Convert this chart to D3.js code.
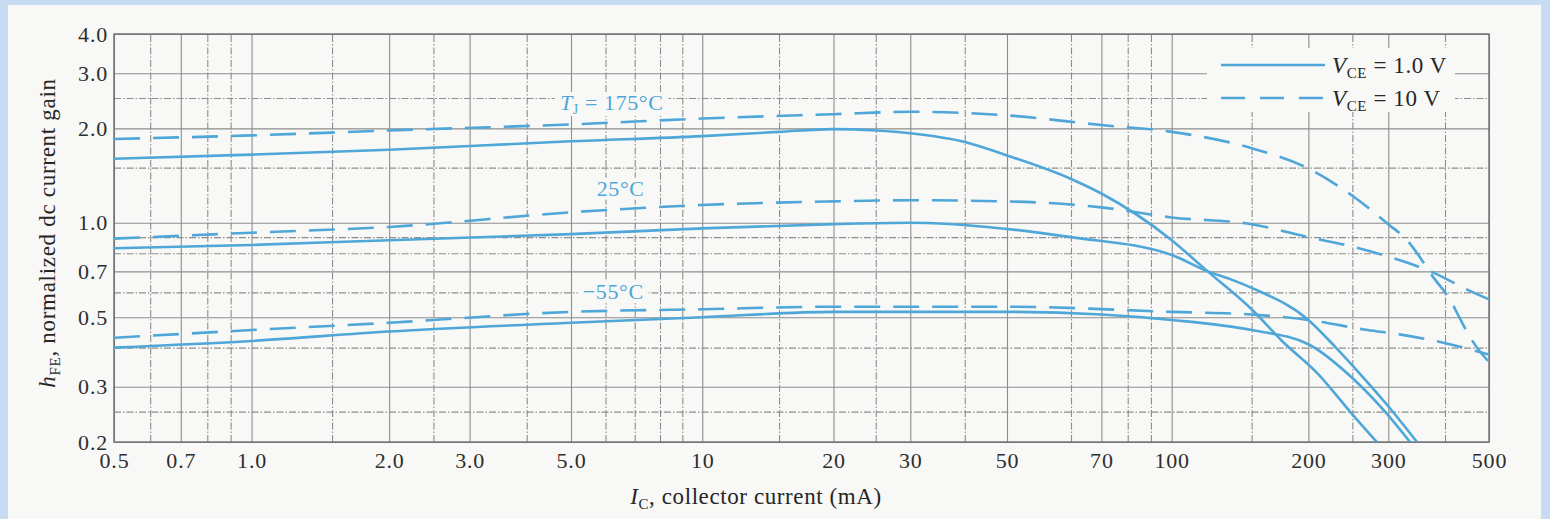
<!DOCTYPE html>
<html>
<head>
<meta charset="utf-8">
<script src="https://cdn.jsdelivr.net/npm/d3@7"></script>
<style>
  html, body { margin: 0; padding: 0; background: #c7dcf3; }
  svg { display: block; }
  text { font-family: "Liberation Serif", "DejaVu Serif", serif; }
</style>
</head>
<body>
<svg id="chart" width="1550" height="519"></svg>
<script>
// values: collector current in mA, normalized h_FE
var gridCurrents = [0.5, 0.6, 0.7, 0.8, 0.9, 1, 1.5, 2, 2.5, 3, 4, 5, 6, 7, 8, 9, 10, 15, 20, 25, 30, 40, 50, 60, 70, 80, 90, 100, 150, 200, 250, 300, 400, 500];
var labelCurrents = [0.5, 0.7, 1, 2, 3, 5, 10, 20, 30, 50, 70, 100, 200, 300, 500];
var currentLabels = ['0.5', '0.7', '1.0', '2.0', '3.0', '5.0', '10', '20', '30', '50', '70', '100', '200', '300', '500'];
var gridGains = [0.2, 0.25, 0.3, 0.4, 0.5, 0.6, 0.7, 0.8, 0.9, 1, 1.5, 2, 2.5, 3, 4];
var labelGains = [0.2, 0.3, 0.5, 0.7, 1, 2, 3, 4];
var gainLabels = ['0.2', '0.3', '0.5', '0.7', '1.0', '2.0', '3.0', '4.0'];

var t175Vce1 = [[0.5, 1.60], [1, 1.65], [2, 1.71], [5, 1.82], [10, 1.89], [15, 1.95], [20, 1.99], [25, 1.97], [30, 1.93], [40, 1.81], [50, 1.64], [60, 1.38], [70, 1.24], [100, 0.88], [120, 0.70], [150, 0.53], [175, 0.42], [210, 0.33], [250, 0.245], [283, 0.20]];
var t175Vce10 = [[0.5, 1.85], [1, 1.90], [2, 1.97], [5, 2.06], [10, 2.15], [20, 2.22], [30, 2.26], [50, 2.20], [70, 2.05], [100, 1.95], [150, 1.73], [200, 1.49], [250, 1.22], [300, 0.99], [330, 0.88], [380, 0.66], [410, 0.57], [430, 0.50], [455, 0.43], [480, 0.385], [500, 0.36]];
var t25Vce1 = [[0.5, 0.83], [1, 0.85], [2, 0.88], [5, 0.92], [10, 0.96], [20, 0.99], [30, 1.00], [45, 0.97], [60, 0.90], [100, 0.79], [120, 0.70], [135, 0.66], [150, 0.62], [200, 0.49], [230, 0.40], [270, 0.31], [300, 0.26], [347, 0.20]];
var t25Vce10 = [[0.5, 0.89], [1, 0.93], [2, 0.97], [5, 1.08], [10, 1.14], [20, 1.17], [30, 1.18], [50, 1.17], [70, 1.12], [100, 1.04], [150, 0.99], [200, 0.90], [250, 0.84], [300, 0.78], [380, 0.69], [450, 0.61], [500, 0.57]];
var tm55Vce1 = [[0.5, 0.40], [1, 0.42], [2, 0.45], [5, 0.48], [10, 0.50], [20, 0.52], [50, 0.52], [70, 0.51], [100, 0.49], [150, 0.455], [200, 0.41], [250, 0.32], [295, 0.25], [335, 0.20]];
var tm55Vce10 = [[0.5, 0.43], [1, 0.455], [2, 0.48], [5, 0.52], [10, 0.53], [20, 0.54], [50, 0.54], [100, 0.52], [150, 0.51], [200, 0.49], [270, 0.455], [320, 0.44], [410, 0.41], [500, 0.38]];

// temperature labels, anchored at [mA, gain]
var tempLabels = [
  {pre: 'T', sub: 'J', post: ' = 175°C', at: [6.2, 2.29]},
  {pre: '', sub: '', post: '25°C', at: [6.5, 1.22]},
  {pre: '', sub: '', post: '\u221255°C', at: [6.25, 0.571]}
];
var legendLabels = [' = 1.0 V', ' = 10 V'];

var curveColor = '#4ea7d8';
var gridColor = '#8d8d8d';
var paper = '#f8f8f6';

var svg = d3.select('#chart');
svg.append('rect')
  .attr('x', 8).attr('y', 5)
  .attr('width', 1533).attr('height', 514)
  .attr('fill', paper);

// the scanned axis is not quite uniform, so the log scale is piecewise
var x = d3.scaleLog().domain([0.5, 5, 50, 60, 500]).range([114, 571, 1007, 1071, 1489]);
var y = d3.scaleLog().domain([0.2, 4]).range([442, 34]);
var plotLeft = x(0.5), plotRight = x(500), plotTop = y(4), plotBottom = y(0.2);
var plotW = plotRight - plotLeft, plotH = plotBottom - plotTop;

function gridDash(labels) {
  return function(d) {
    return labels.indexOf(d) >= 0 ? null : '7,2,1.5,2';
  };
}

var gridX = svg.append('g')
  .attr('transform', 'translate(0,' + plotBottom + ')')
  .call(d3.axisBottom(x).tickValues(gridCurrents).tickSize(-plotH).tickFormat(''));
gridX.select('.domain').remove();
gridX.selectAll('line')
  .attr('stroke', gridColor)
  .attr('stroke-width', 1.1)
  .attr('stroke-dasharray', gridDash(labelCurrents));

var gridY = svg.append('g')
  .attr('transform', 'translate(' + plotLeft + ',0)')
  .call(d3.axisLeft(y).tickValues(gridGains).tickSize(-plotW).tickFormat(''));
gridY.select('.domain').remove();
gridY.selectAll('line')
  .attr('stroke', gridColor)
  .attr('stroke-width', 1.1)
  .attr('stroke-dasharray', gridDash(labelGains));

svg.append('rect')
  .attr('x', plotLeft).attr('y', plotTop)
  .attr('width', plotW).attr('height', plotH)
  .attr('fill', 'none')
  .attr('stroke', '#6e6e6e')
  .attr('stroke-width', 1.4);

// tick labels
var xAxis = svg.append('g')
  .attr('transform', 'translate(0,' + plotBottom + ')')
  .call(d3.axisBottom(x).tickValues(labelCurrents).tickSize(0).tickPadding(10)
    .tickFormat(function(d) { return currentLabels[labelCurrents.indexOf(d)]; }));
xAxis.select('.domain').remove();
xAxis.attr('font-family', null).attr('font-size', null);
xAxis.selectAll('text')
  .attr('font-size', 22)
  .attr('letter-spacing', 0.8)
  .attr('fill', '#2e2e2e');

var yAxis = svg.append('g')
  .attr('transform', 'translate(' + plotLeft + ',0)')
  .call(d3.axisLeft(y).tickValues(labelGains).tickSize(0).tickPadding(6)
    .tickFormat(function(d) { return gainLabels[labelGains.indexOf(d)]; }));
yAxis.select('.domain').remove();
yAxis.attr('font-family', null).attr('font-size', null);
yAxis.selectAll('text')
  .attr('font-size', 22)
  .attr('letter-spacing', 0.8)
  .attr('fill', '#2e2e2e');

// axis titles
var xTitle = svg.append('text')
  .attr('x', 756).attr('y', 504)
  .attr('text-anchor', 'middle')
  .attr('font-size', 23)
  .attr('letter-spacing', 0.6)
  .attr('fill', '#262626');
xTitle.append('tspan').attr('font-style', 'italic').text('I');
xTitle.append('tspan').attr('font-size', 15).attr('dy', 5).text('C');
xTitle.append('tspan').attr('dy', -5).text(', collector current (mA)');

var yTitle = svg.append('text')
  .attr('transform', 'translate(55,233) rotate(-90)')
  .attr('text-anchor', 'middle')
  .attr('font-size', 23)
  .attr('letter-spacing', 0.7)
  .attr('fill', '#262626');
yTitle.append('tspan').attr('font-style', 'italic').text('h');
yTitle.append('tspan').attr('font-size', 15).attr('dy', 5).text('FE');
yTitle.append('tspan').attr('dy', -5).text(', normalized dc current gain');

// temperature labels with a paper knock-out behind them
tempLabels.forEach(function(lab) {
  var g = svg.append('g');
  var bg = g.append('rect').attr('fill', paper);
  var t = g.append('text')
    .attr('x', x(lab.at[0])).attr('y', y(lab.at[1]))
    .attr('text-anchor', 'middle')
    .attr('font-size', 22)
    .attr('letter-spacing', 0.6)
    .attr('fill', curveColor);
  if (lab.pre) {
    t.append('tspan').attr('font-style', 'italic').text(lab.pre);
    t.append('tspan').attr('font-size', 14).attr('dy', 4).text(lab.sub);
    t.append('tspan').attr('dy', -4).text(lab.post);
  } else {
    t.text(lab.post);
  }
  var b = t.node().getBBox();
  bg.attr('x', b.x - 5).attr('y', b.y + 2).attr('width', b.width + 10).attr('height', b.height - 3);
});

// curves
var seriesList = [
  {values: t175Vce1, dashed: false},
  {values: t175Vce10, dashed: true},
  {values: t25Vce1, dashed: false},
  {values: t25Vce10, dashed: true},
  {values: tm55Vce1, dashed: false},
  {values: tm55Vce10, dashed: true}
];

svg.append('clipPath').attr('id', 'plot-clip')
  .append('rect')
  .attr('x', plotLeft).attr('y', plotTop)
  .attr('width', plotW).attr('height', plotH);

var line = d3.line()
  .x(function(d) { return x(d[0]); })
  .y(function(d) { return y(d[1]); })
  .curve(d3.curveMonotoneX);

svg.append('g')
  .attr('clip-path', 'url(#plot-clip)')
  .selectAll('path')
  .data(seriesList)
  .enter().append('path')
    .attr('d', function(s) { return line(s.values); })
    .attr('fill', 'none')
    .attr('stroke', curveColor)
    .attr('stroke-width', 2.6)
    .attr('stroke-dasharray', function(s) { return s.dashed ? '26,13' : null; });

// legend
var legend = svg.append('g').attr('transform', 'translate(1207,48)');
legend.append('rect')
  .attr('width', 248).attr('height', 64)
  .attr('fill', paper);
legendLabels.forEach(function(label, i) {
  var rowY = 17 + i * 33;
  legend.append('line')
    .attr('x1', 14).attr('x2', 118)
    .attr('y1', rowY).attr('y2', rowY)
    .attr('stroke', curveColor)
    .attr('stroke-width', 2.6)
    .attr('stroke-dasharray', i === 1 ? '24,15' : null);
  var t = legend.append('text')
    .attr('x', 125).attr('y', rowY + 8)
    .attr('font-size', 23)
    .attr('letter-spacing', 0.6)
    .attr('fill', '#262626');
  t.append('tspan').attr('font-style', 'italic').text('V');
  t.append('tspan').attr('font-size', 15).attr('dy', 5).text('CE');
  t.append('tspan').attr('dy', -5).text(label);
});
</script>
</body>
</html>
